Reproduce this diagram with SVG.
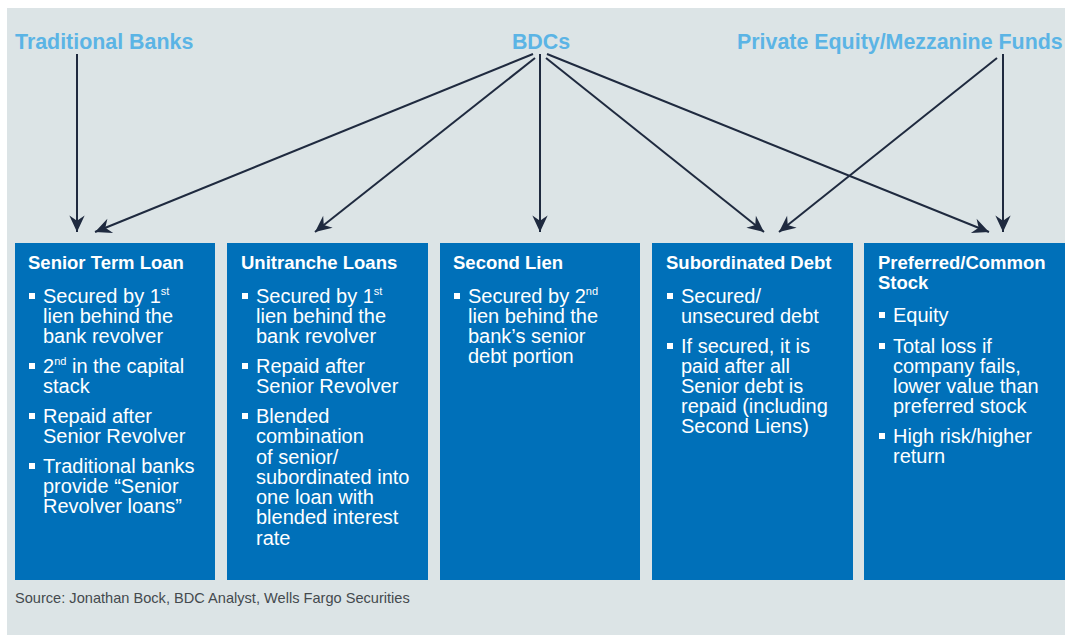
<svg xmlns="http://www.w3.org/2000/svg" width="1065" height="635" viewBox="0 0 1065 635">
  <style>
    .src { font-family: "Liberation Sans", Arial, sans-serif; font-weight: bold; font-size: 21.4px; fill: #5bb4e5; }
    .box { fill: #0070b9; }
    .ttl { font-family: "Liberation Sans", Arial, sans-serif; font-weight: bold; font-size: 18.5px; fill: #ffffff; }
    .txt { font-family: "Liberation Sans", Arial, sans-serif; font-size: 20px; fill: #ffffff; }
    .sup { font-size: 11px; }
    .dot { fill: #ffffff; }
    .lnk { stroke: #1f2a3f; stroke-width: 2; fill: none; marker-end: url(#head); }
    .note { font-family: "Liberation Sans", Arial, sans-serif; font-size: 14.6px; fill: #444a4e; }
  </style>
  <defs>
    <marker id="head" markerUnits="userSpaceOnUse" markerWidth="20" markerHeight="20" viewBox="-15 -8 17 16" refX="0" refY="0" orient="auto">
      <path d="M0,0 L-14,-6.5 L-9.5,0 L-14,6.5 Z" fill="#1f2a3f"/>
    </marker>
  </defs>

  <rect x="0" y="0" width="1065" height="635" fill="#ffffff"/>
  <rect x="7" y="8" width="1058" height="627" fill="#dce4e6"/>

  <!-- capital providers -->
  <g id="traditional-banks"><text class="src" x="15" y="49">Traditional Banks</text></g>
  <g id="bdcs"><text class="src" x="541" y="49" text-anchor="middle">BDCs</text></g>
  <g id="pe-mezzanine"><text class="src" x="737" y="49">Private Equity/Mezzanine Funds</text></g>

  <!-- connectors -->
  <g id="connectors">
    <line class="lnk" x1="77" y1="54" x2="77" y2="232"/>
    <line class="lnk" x1="533" y1="54" x2="95" y2="232"/>
    <line class="lnk" x1="535" y1="58" x2="315" y2="232"/>
    <line class="lnk" x1="540" y1="54" x2="540" y2="232"/>
    <line class="lnk" x1="546" y1="58" x2="764" y2="232"/>
    <line class="lnk" x1="547" y1="54" x2="989" y2="232"/>
    <line class="lnk" x1="997" y1="58" x2="779" y2="232"/>
    <line class="lnk" x1="1003" y1="54" x2="1003" y2="232"/>
  </g>

  <!-- Senior Term Loan -->
  <g id="senior-term-loan">
    <rect class="box" x="15" y="243" width="200" height="337"/>
    <text class="ttl" x="28" y="269">Senior Term Loan</text>
    <rect class="dot" x="29" y="293" width="6" height="6"/>
    <text class="txt" x="43" y="303">Secured by 1<tspan class="sup" dy="-8">st</tspan></text>
    <text class="txt" x="43" y="323">lien behind the</text>
    <text class="txt" x="43" y="343">bank revolver</text>
    <rect class="dot" x="29" y="363" width="6" height="6"/>
    <text class="txt" x="43" y="373">2<tspan class="sup" dy="-8">nd</tspan><tspan dy="8"> in the capital</tspan></text>
    <text class="txt" x="43" y="393">stack</text>
    <rect class="dot" x="29" y="413" width="6" height="6"/>
    <text class="txt" x="43" y="423">Repaid after</text>
    <text class="txt" x="43" y="443">Senior Revolver</text>
    <rect class="dot" x="29" y="463" width="6" height="6"/>
    <text class="txt" x="43" y="473">Traditional banks</text>
    <text class="txt" x="43" y="493">provide “Senior</text>
    <text class="txt" x="43" y="513">Revolver loans”</text>
  </g>

  <!-- Unitranche Loans -->
  <g id="unitranche-loans">
    <rect class="box" x="227" y="243" width="201" height="337"/>
    <text class="ttl" x="241" y="269">Unitranche Loans</text>
    <rect class="dot" x="242" y="293" width="6" height="6"/>
    <text class="txt" x="256" y="303">Secured by 1<tspan class="sup" dy="-8">st</tspan></text>
    <text class="txt" x="256" y="323">lien behind the</text>
    <text class="txt" x="256" y="343">bank revolver</text>
    <rect class="dot" x="242" y="363" width="6" height="6"/>
    <text class="txt" x="256" y="373">Repaid after</text>
    <text class="txt" x="256" y="393">Senior Revolver</text>
    <rect class="dot" x="242" y="413" width="6" height="6"/>
    <text class="txt" x="256" y="423">Blended</text>
    <text class="txt" x="256" y="443">combination</text>
    <text class="txt" x="256" y="464">of senior/</text>
    <text class="txt" x="256" y="484">subordinated into</text>
    <text class="txt" x="256" y="504">one loan with</text>
    <text class="txt" x="256" y="524">blended interest</text>
    <text class="txt" x="256" y="545">rate</text>
  </g>

  <!-- Second Lien -->
  <g id="second-lien">
    <rect class="box" x="440" y="243" width="200" height="337"/>
    <text class="ttl" x="453" y="269">Second Lien</text>
    <rect class="dot" x="454" y="293" width="6" height="6"/>
    <text class="txt" x="468" y="303">Secured by 2<tspan class="sup" dy="-8">nd</tspan></text>
    <text class="txt" x="468" y="323">lien behind the</text>
    <text class="txt" x="468" y="343">bank’s senior</text>
    <text class="txt" x="468" y="363">debt portion</text>
  </g>

  <!-- Subordinated Debt -->
  <g id="subordinated-debt">
    <rect class="box" x="652" y="243" width="201" height="337"/>
    <text class="ttl" x="666" y="269">Subordinated Debt</text>
    <rect class="dot" x="667" y="293" width="6" height="6"/>
    <text class="txt" x="681" y="303">Secured/</text>
    <text class="txt" x="681" y="323">unsecured debt</text>
    <rect class="dot" x="667" y="343" width="6" height="6"/>
    <text class="txt" x="681" y="353">If secured, it is</text>
    <text class="txt" x="681" y="373">paid after all</text>
    <text class="txt" x="681" y="393">Senior debt is</text>
    <text class="txt" x="681" y="413">repaid (including</text>
    <text class="txt" x="681" y="433">Second Liens)</text>
  </g>

  <!-- Preferred/Common Stock -->
  <g id="preferred-common-stock">
    <rect class="box" x="864" y="243" width="201" height="337"/>
    <text class="ttl" x="878" y="269">Preferred/Common</text>
    <text class="ttl" x="878" y="289">Stock</text>
    <rect class="dot" x="879" y="312" width="6" height="6"/>
    <text class="txt" x="893" y="322">Equity</text>
    <rect class="dot" x="879" y="343" width="6" height="6"/>
    <text class="txt" x="893" y="353">Total loss if</text>
    <text class="txt" x="893" y="373">company fails,</text>
    <text class="txt" x="893" y="393">lower value than</text>
    <text class="txt" x="893" y="413">preferred stock</text>
    <rect class="dot" x="879" y="433" width="6" height="6"/>
    <text class="txt" x="893" y="443">High risk/higher</text>
    <text class="txt" x="893" y="463">return</text>
  </g>

  <text class="note" x="15" y="603">Source: Jonathan Bock, BDC Analyst, Wells Fargo Securities</text>
</svg>
